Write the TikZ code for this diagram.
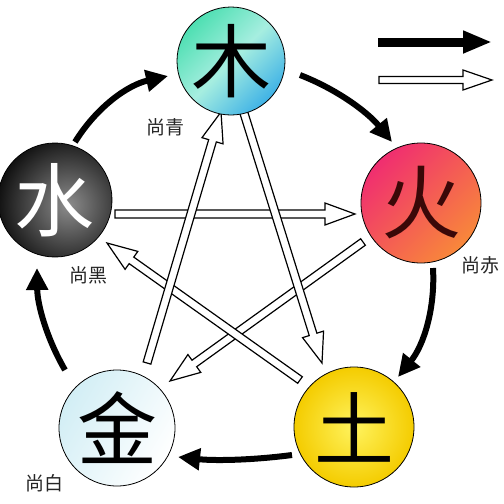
\documentclass[tikz,border=0pt]{standalone}
\usepackage{fontspec}
\newfontfamily\cjk{Noto Sans CJK SC}
\usetikzlibrary{arrows.meta,calc}
\definecolor{woodA}{HTML}{4EDFB2}
\definecolor{woodM}{HTML}{A6EEE0}
\definecolor{woodB}{HTML}{3FB2E6}
\definecolor{fireA}{HTML}{F02E70}
\definecolor{fireB}{HTML}{F8883A}
\definecolor{earthA}{HTML}{FFF35E}
\definecolor{earthB}{HTML}{F4CC00}
\definecolor{metalA}{HTML}{D2EEF5}
\definecolor{fireInk}{HTML}{3A0808}
\newcommand\harrow[5]{%
  \filldraw[hollowarr] ($(#1)!#3!90:(#2)$) -- ($(#2)!#5!(#1)!#3!-90:(#1)$)
   -- ($(#2)!#5!(#1)!#4!-90:(#1)$) -- (#2) -- ($(#2)!#5!(#1)!#4!90:(#1)$)
   -- ($(#2)!#5!(#1)!#3!90:(#1)$) -- ($(#1)!#3!-90:(#2)$) -- cycle;}
\tikzset{
  elem/.style={circle, draw=black, line width=0.8pt, inner sep=0pt, minimum size=#1},
  bigch/.style={font=\cjk\fontsize{80}{80}\selectfont, inner sep=0pt},
  lab/.style={font=\cjk\fontsize{19}{19}\selectfont, inner sep=0pt, text=black!85},
  cyc/.style={line width=6pt, -{Triangle[length=22pt,width=21pt]}},
  hollowarr/.style={draw=black, fill=white, line width=1.2pt, line join=miter},
}
\begin{document}
\begin{tikzpicture}[x=1pt,y=-1pt]
\fill[white] (0,0) rectangle (504,504);
\useasboundingbox (0,0) rectangle (504,504);

% hollow (controlling) arrows
\coordinate (a1t) at (115,214); \coordinate (a1h) at (355,214);
\coordinate (a2t) at (363,242); \coordinate (a2h) at (170,381);
\coordinate (a3t) at (300,380); \coordinate (a3h) at (107,243);
\coordinate (a4t) at (147,363); \coordinate (a4h) at (221,112);
\coordinate (a5t) at (243,110); \coordinate (a5h) at (322,363);
\harrow{a1t}{a1h}{4pt}{11pt}{30pt}
\harrow{a2t}{a2h}{4pt}{11pt}{30pt}
\harrow{a3t}{a3h}{4pt}{11pt}{30pt}
\harrow{a4t}{a4h}{4pt}{11pt}{30pt}
\harrow{a5t}{a5h}{4pt}{11pt}{30pt}

% element circles
\node[elem=108pt, top color=woodA, bottom color=woodB, middle color=woodM, shading angle=45] (mu) at (231,61) {};
\node[elem=120pt, top color=fireA, bottom color=fireB, shading angle=45] (huo) at (421,203) {};
\node[elem=120pt, inner color=earthA, outer color=earthB] (tu) at (354,427) {};
\node[elem=116pt, top color=metalA, bottom color=white, shading angle=60] (jin) at (117,428) {};
\node[elem=114pt, fill=black] (shui) at (55,200) {};
\begin{scope}
  \clip (55,200) circle (56.5);
  \shade[inner color=black!45, outer color=black] (68,205) circle (80);
\end{scope}

\node[bigch] (muT) at (mu) {木};
\node[bigch, text=fireInk] (huoT) at (huo) {火};
\node[bigch] (tuT) at (tu) {土};
\node[bigch] (jinT) at (jin) {金};
\node[bigch, text=white] (shuiT) at (shui) {水};

\node[lab] (l1) at (165,127) {尚青};
\node[lab] (l2) at (480,265) {尚赤};
\node[lab] (l3) at (88,275) {尚黑};
\node[lab] (l4) at (45,483) {尚白};

% generating cycle (black arrows)
\coordinate (c1s) at (75,142);  \coordinate (c1e) at (168,76);
\coordinate (c2s) at (300,75);  \coordinate (c2e) at (392,142);
\coordinate (c3s) at (433,268); \coordinate (c3e) at (398,377);
\coordinate (c4s) at (292,455); \coordinate (c4e) at (178,457);
\coordinate (c5s) at (65,370);  \coordinate (c5e) at (37,268);
\draw[cyc] (c1s) .. controls (96.7,107) and (127.7,85) .. (c1e);
\draw[cyc] (c2s) .. controls (336.6,89.2) and (367.2,111.6) .. (c2e);
\draw[cyc] (c3s) .. controls (435.3,308.8) and (423.7,345.2) .. (c3e);
\draw[cyc] (c4s) .. controls (254,460) and (216,461) .. (c4e);
\draw[cyc] (c5s) .. controls (46.7,338.5) and (37.3,304.5) .. (c5e);

% legend
\coordinate (L1a) at (378,42); \coordinate (L1b) at (492,42);
\draw[line width=9pt, -{Triangle[length=29pt,width=21pt]}] (L1a) -- (L1b);
\coordinate (L2a) at (379,80); \coordinate (L2b) at (492,80);
\harrow{L2a}{L2b}{3.5pt}{10pt}{29pt}
\end{tikzpicture}
\end{document}
